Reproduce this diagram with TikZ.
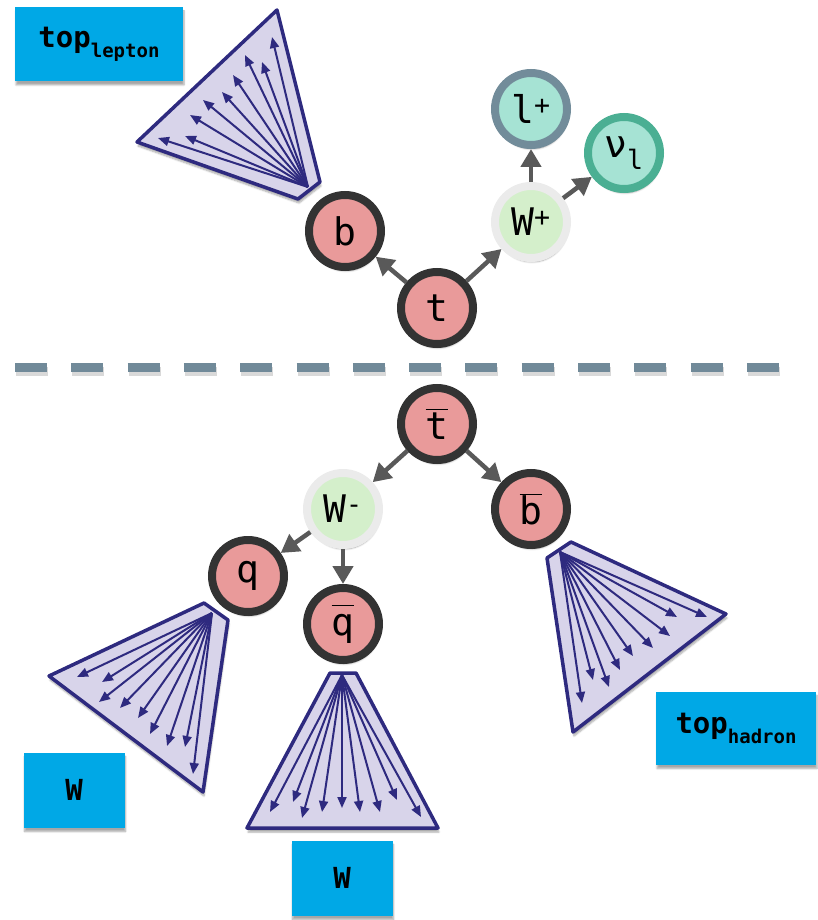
\documentclass[tikz,border=0pt]{standalone}
\usepackage{fontspec}
\setmonofont{DejaVu Sans Mono}
\usepackage{tikz}
\usetikzlibrary{arrows.meta,shadows.blur}

\definecolor{redfill}{HTML}{E99A9A}
\definecolor{darkring}{HTML}{333333}
\definecolor{wfill}{HTML}{D4EFCB}
\definecolor{wring}{HTML}{EBEBEB}
\definecolor{tealfill}{HTML}{A6E3D4}
\definecolor{lring}{HTML}{728C9A}
\definecolor{nuring}{HTML}{4BAF93}
\definecolor{arrowgray}{HTML}{595959}
\definecolor{boxblue}{HTML}{00A8E6}
\definecolor{conefill}{HTML}{D8D4EA}
\definecolor{conedraw}{HTML}{2E2A7F}
\definecolor{dashgray}{HTML}{718A99}

\newcommand{\obar}[1]{$\overline{\mbox{\vphantom{b}#1}}$}

\tikzset{
  soft/.style={blur shadow={shadow xshift=1pt,shadow yshift=-4pt,shadow blur steps=6,shadow opacity=35}},
  particle/.style={circle, soft, minimum size=72pt, line width=8pt, inner sep=0pt,
    font=\ttfamily\fontsize{38}{38}\selectfont},
  quark/.style={particle, fill=redfill, draw=darkring},
  boson/.style={particle, fill=wfill, draw=wring},
  lepton/.style={particle, fill=tealfill, draw=#1},
  decay/.style={draw=arrowgray, line width=4.5pt, -{Triangle[length=18pt,width=20pt]}},
  labelbox/.style={fill=boxblue, soft, inner sep=0pt,
    font=\ttfamily\bfseries\fontsize{29}{29}\selectfont},
  cone/.style={fill=conefill, draw=conedraw, line width=3.5pt, line join=round, soft},
  track/.style={draw=conedraw, line width=2pt, -{Triangle[length=11pt,width=9pt]}},
  dashline/.style={draw=dashgray, line width=9pt, dash pattern=on 32pt off 24.3pt}
}

\begin{document}
\begin{tikzpicture}[x=1pt,y=-1pt]
  \useasboundingbox (0,0) rectangle (817,920);

  % jets
  \draw[cone] (277,10) -- (137,142) -- (298,199) -- (320,182) -- cycle;
  \coordinate (jb) at (308,187);
  \foreach \x/\y in {158/138,185/136,190/115,203/100,222/92,233/75,245/55,262/62,272/37}
    \draw[track] (jb) -- (\x,\y);

  \draw[cone] (204,603) -- (49,676) -- (203,792) -- (228,620) -- cycle;
  \coordinate (jq) at (212,613);
  \foreach \x/\y in {77/677,102/682,99/702,120/708,138/718,150/734,167/746,185/747,193/774}
    \draw[track] (jq) -- (\x,\y);

  \draw[cone] (330,673) -- (356,673) -- (438,828) -- (247,828) -- cycle;
  \coordinate (jqb) at (342,675);
  \foreach \x/\y in {270/812,293/802,302/818,322/812,342/808,360/812,380/812,397/800,421/817}
    \draw[track] (jqb) -- (\x,\y);

  \draw[cone] (571,542) -- (726,614) -- (573,732) -- (547,558) -- cycle;
  \coordinate (jbb) at (560,552);
  \foreach \x/\y in {707/617,677/617,670/636,653/648,633/656,620/670,609/687,593/680,582/703}
    \draw[track] (jbb) -- (\x,\y);

  % labels
  \node[labelbox, minimum width=168pt, minimum height=74pt] (toplep) at (99,44)
    {top\raisebox{-10pt}{\fontsize{19}{19}\selectfont lepton}};
  \node[labelbox, minimum width=101pt, minimum height=75pt] (w1) at (74,790) {W};
  \node[labelbox, minimum width=101pt, minimum height=75pt] (w2) at (342,878) {W};
  \node[labelbox, minimum width=160pt, minimum height=73pt] (tophad) at (736,728)
    {top\raisebox{-10pt}{\fontsize{19}{19}\selectfont hadron}};

  % top, leptonic side
  \node[quark] (t) at (437,308) {t};
  \node[quark] (b) at (345,231) {b};
  \node[boson] (Wp) at (531,222) {W\textsuperscript{+}};
  \node[lepton=lring] (lp) at (531,109) {l\textsuperscript{+}};
  \node[lepton=nuring] (nu) at (624,153) {ν\textsubscript{l}};

  \draw[decay] (t) -- (b);
  \draw[decay] (t) -- (Wp);
  \draw[decay] (Wp) -- (lp);
  \draw[decay] (Wp) -- (nu);

  \draw[dashline, draw=black, opacity=.15] (16,371) -- (783,371);
  \draw[dashline] (15,367) -- (782,367);

  % antitop, hadronic side
  \node[quark] (tb) at (437,424) {\obar{t}};
  \node[boson] (Wm) at (343,509) {W\textsuperscript{-}};
  \node[quark] (bb) at (531,509) {\obar{b}};
  \node[quark] (q) at (248,576) {q};
  \node[quark] (qb) at (343,624) {\obar{q}};

  \draw[decay] (tb) -- (Wm);
  \draw[decay] (tb) -- (bb);
  \draw[decay] (Wm) -- (q);
  \draw[decay] (Wm) -- (qb);
\end{tikzpicture}
\end{document}
